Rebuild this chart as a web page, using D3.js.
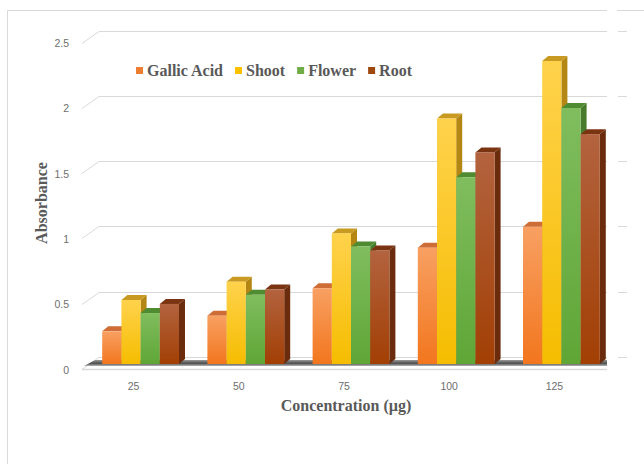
<!DOCTYPE html>
<html>
<head>
<meta charset="utf-8">
<script src="https://cdn.jsdelivr.net/npm/d3@7"></script>
<style>
  html, body { margin: 0; padding: 0; background: #fff; }
  svg { display: block; }
</style>
</head>
<body>
<svg id="chart" width="644" height="464"></svg>
<script>
// Absorbance readings per concentration
const concentrations = ["25", "50", "75", "100", "125"];
const seriesNames = ["Gallic Acid", "Shoot", "Flower", "Root"];
const gallicAcid = [0.25, 0.37, 0.58, 0.89, 1.05];
const shoot      = [0.49, 0.63, 1.00, 1.88, 2.32];
const flower     = [0.39, 0.53, 0.90, 1.43, 1.96];
const root       = [0.46, 0.57, 0.87, 1.62, 1.76];
const yTicks = [0, 0.5, 1, 1.5, 2, 2.5];

const seriesValues = [gallicAcid, shoot, flower, root];

// face colours: [front top, front bottom, cap, side, legend]
const palette = {
  "Gallic Acid": ["#f8a062", "#f2761e", "#cf6d36", "#b85a22", "#ed7d31"],
  "Shoot":       ["#ffd24c", "#f5bd00", "#c89a22", "#b48614", "#ffc000"],
  "Flower":      ["#80bd5e", "#5fa636", "#4f8c31", "#487c2c", "#70ad47"],
  "Root":        ["#b3633f", "#a23f04", "#7b3412", "#6a2c0c", "#9e480e"]
};

const svg = d3.select("#chart");
const defs = svg.append("defs");

seriesNames.forEach((name, i) => {
  const g = defs.append("linearGradient")
    .attr("id", "grad" + i)
    .attr("x1", 0).attr("y1", 0).attr("x2", 0).attr("y2", 1);
  g.append("stop").attr("offset", "0%").attr("stop-color", palette[name][0]);
  g.append("stop").attr("offset", "100%").attr("stop-color", palette[name][1]);
});

const floorGrad = defs.append("linearGradient")
  .attr("id", "floorGrad").attr("x1", 0).attr("y1", 0).attr("x2", 0).attr("y2", 1);
floorGrad.append("stop").attr("offset", "0%").attr("stop-color", "#9a9a9a");
floorGrad.append("stop").attr("offset", "55%").attr("stop-color", "#4d4d4d");
floorGrad.append("stop").attr("offset", "100%").attr("stop-color", "#b5b5b5");

// oblique depth of the plot box and of each column
const wallDx = 17, wallDy = -12;
const barOffX = 7, barOffY = -5;
const barDx = 6, barDy = -5;

const plotLeft = 81, plotRight = 607;

const y = d3.scaleLinear().domain([0, 2.5]).range([369, 42.5]);

const x0 = d3.scaleBand()
  .domain(concentrations)
  .range([plotLeft, plotRight])
  .paddingInner(0.27)
  .paddingOuter(0.135);

const x1 = d3.scaleBand()
  .domain(seriesNames)
  .range([0, x0.bandwidth()]);

const gridColor = "#d9d9d9";

// outer frame
svg.append("path")
  .attr("d", "M7.5,464 V10.5 H607")
  .attr("fill", "none").attr("stroke", gridColor).attr("stroke-width", 1);
svg.append("path")
  .attr("d", "M617,10.5 H644")
  .attr("fill", "none").attr("stroke", gridColor).attr("stroke-width", 1);

// back-wall gridlines with the oblique lead-in on the left
const grid = svg.append("g");
yTicks.forEach(t => {
  const yy = Math.round(y(t)) + 0.5;
  grid.append("path")
    .attr("d", `M${plotLeft + 1},${yy} L${plotLeft + 1 + wallDx},${yy + wallDy} H${plotRight}`)
    .attr("fill", "none").attr("stroke", gridColor).attr("stroke-width", 1);
  grid.append("path")
    .attr("d", `M618,${yy + wallDy} H627`)
    .attr("fill", "none").attr("stroke", gridColor).attr("stroke-width", 1);
});

// y tick labels
svg.append("g").selectAll("text")
  .data(yTicks)
  .join("text")
  .attr("x", 69)
  .attr("y", d => y(d) + 4.5)
  .attr("text-anchor", "end")
  .attr("font-family", "Liberation Sans, Arial, sans-serif")
  .attr("font-size", 10.5)
  .attr("fill", "#6e6e6e")
  .text(d => d);

// floor slab
const floorTop = y(0) + barOffY - 1;
svg.append("path")
  .attr("d", `M${plotLeft + 3},${floorTop + 3} L${plotRight},${floorTop + 3} L${plotRight},${floorTop - 3} L${plotLeft + 14},${floorTop - 3} Z`)
  .attr("fill", "url(#floorGrad)");
svg.append("path")
  .attr("d", `M${plotLeft + 1},${Math.round(y(0)) + 0.5} H${plotRight}`)
  .attr("fill", "none").attr("stroke", gridColor).attr("stroke-width", 1.5);

// 3D columns, drawn left to right so each front face covers its neighbour's side
const bars = svg.append("g");
concentrations.forEach((c, ci) => {
  seriesNames.forEach((name, si) => {
    const v = seriesValues[si][ci];
    const xa = x0(c) + x1(name) + barOffX;
    const xb = xa + x1.bandwidth();
    const yt = y(v) + barOffY;
    const yb = y(0) + barOffY;
    const col = palette[name];
    const g = bars.append("g");
    g.append("path")
      .attr("d", `M${xb},${yt} L${xb + barDx},${yt + barDy} L${xb + barDx},${yb + barDy} L${xb},${yb} Z`)
      .attr("fill", col[3]);
    g.append("path")
      .attr("d", `M${xa},${yt} L${xb},${yt} L${xb + barDx},${yt + barDy} L${xa + barDx},${yt + barDy} Z`)
      .attr("fill", col[2]);
    g.append("rect")
      .attr("x", xa).attr("y", yt)
      .attr("width", xb - xa).attr("height", yb - yt)
      .attr("fill", `url(#grad${si})`);
  });
});

// category labels
svg.append("g").selectAll("text")
  .data(concentrations)
  .join("text")
  .attr("x", d => x0(d) + x0.bandwidth() / 2)
  .attr("y", 390)
  .attr("text-anchor", "middle")
  .attr("font-family", "Liberation Sans, Arial, sans-serif")
  .attr("font-size", 10.5)
  .attr("fill", "#6e6e6e")
  .text(d => d);

const titleFont = "Liberation Serif, Times New Roman, serif";

// axis titles
svg.append("text")
  .attr("x", 346).attr("y", 411)
  .attr("text-anchor", "middle")
  .attr("font-family", titleFont)
  .attr("font-weight", "bold")
  .attr("font-size", 16)
  .attr("fill", "#595959")
  .text("Concentration (µg)");

svg.append("text")
  .attr("transform", "translate(47,203) rotate(-90)")
  .attr("text-anchor", "middle")
  .attr("font-family", titleFont)
  .attr("font-weight", "bold")
  .attr("font-size", 16)
  .attr("fill", "#595959")
  .text("Absorbance");

// legend
const legend = svg.append("g");
let lx = 136;
seriesNames.forEach(name => {
  legend.append("rect")
    .attr("x", lx).attr("y", 67)
    .attr("width", 7).attr("height", 7)
    .attr("fill", palette[name][4]);
  const t = legend.append("text")
    .attr("x", lx + 11).attr("y", 76)
    .attr("font-family", titleFont)
    .attr("font-weight", "bold")
    .attr("font-size", 16)
    .attr("fill", "#595959")
    .text(name);
  lx += 11 + t.node().getComputedTextLength() + 12;
});
</script>
</body>
</html>
